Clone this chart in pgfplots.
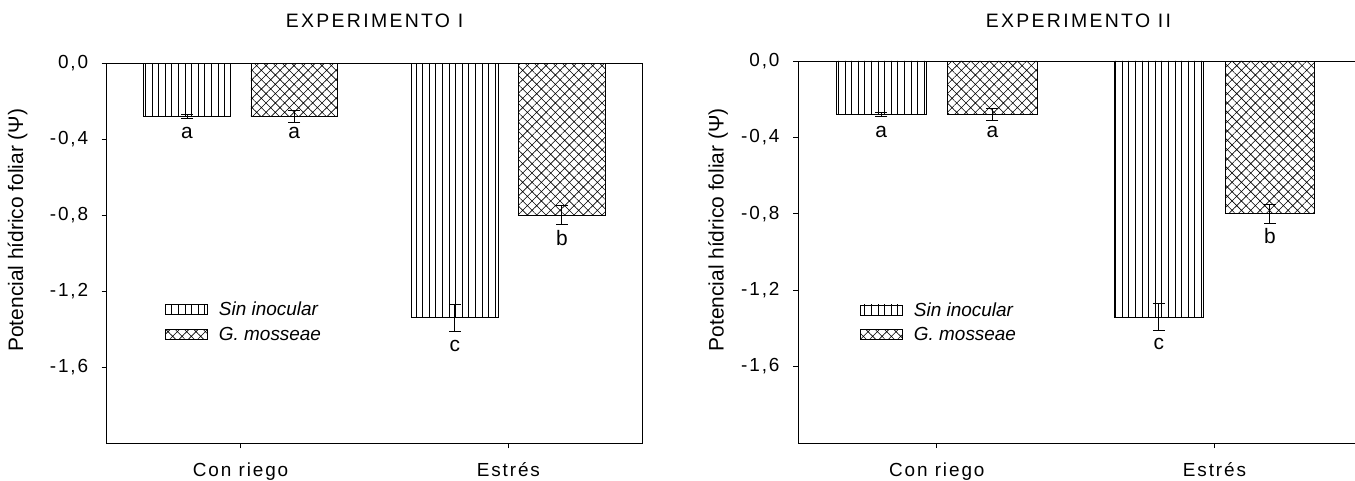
\documentclass[border=0pt]{standalone}
\usepackage{pgfplots}
\pgfplotsset{compat=1.18}
\usepackage{pgfplotstable}
\usetikzlibrary{patterns.meta}
\usepackage{fontspec}
\setmainfont{Liberation Sans}
\newfontfamily\spaced[LetterSpace=10]{Liberation Sans}
\newfontfamily\spacedt[LetterSpace=12]{Liberation Sans}

\pgfplotstableread{
x y e
0.8 -0.28 0.01
1.8 -1.34 0.07
}\sininoc
\pgfplotstableread{
x y e
1.2 -0.28 0.03
2.2 -0.80 0.05
}\gmoss

\tikzset{letter/.style={font=\fontsize{21}{25}\selectfont}}

\pgfplotsset{
 panel/.style={
  scale only axis, anchor=south west,
  xmin=0.5, ymin=-2, ymax=0,
  xtick={1,2}, xticklabels={Con riego, Estrés},
  ytick={-1.6,-1.2,-0.8,-0.4,0},
  tick align=outside, major tick length=5bp,
  xtick pos=bottom, ytick pos=left,
  axis line style={line width=0.9bp, black},
  tick style={line width=0.8bp, black},
  yticklabel style={xshift=-10bp, /pgf/number format/.cd, fixed, fixed zerofill, precision=1, use comma, assume math mode=true},
  xticklabel style={yshift=-11bp},
  ticklabel style={font=\spaced\fontsize{19}{23}\selectfont},
  ylabel={Potencial hídrico foliar (Ψ)},
  ylabel style={font=\fontsize{21}{25}\selectfont, anchor=center},
  title style={font=\spacedt\fontsize{19.5}{23}\selectfont, anchor=center},
  legend style={draw=none, fill=none, font=\itshape\fontsize{19}{23}\selectfont, inner sep=0pt, row sep=6bp, column sep=9bp, anchor=north west},
  legend cell align=left,
 },
 sinbar/.style={ybar, bar shift=0pt, bar width=0.323, draw=black, line width=0.8bp,
   pattern={Lines[angle=90,distance=6.6bp,line width=0.6bp]},
   legend image code/.code={\draw[##1] (0bp,-5bp) rectangle (42bp,5bp);},
   error bars/.cd, y dir=both, y explicit, error bar style={line width=1bp, black},
   error mark options={rotate=90, mark size=6bp, line width=1bp, black}},
 gmbar/.style={ybar, bar shift=0pt, bar width=0.323, draw=black, line width=0.8bp,
   pattern={Hatch[angle=45,distance=6.6bp,line width=0.6bp]},
   legend image code/.code={\draw[##1] (0bp,-5bp) rectangle (42bp,5bp);},
   error bars/.cd, y dir=both, y explicit, error bar style={line width=1bp, black},
   error mark options={rotate=90, mark size=6bp, line width=1bp, black}},
}

\begin{document}
\begin{tikzpicture}
\begin{axis}[panel, at={(106.7bp,37.7bp)}, width=535.6bp, height=380bp, xmax=2.5,
  title={EXPERIMENTO I},
  title style={at={(axis description cs:0.5,1.095)}},
  ylabel style={at={(axis description cs:-0.1666,0.561)}},
  legend style={at={(axis cs:0.7177,-1.246)}}]
\addplot[sinbar] table[x=x, y=y, y error=e] {\sininoc};
\addlegendentry{Sin inocular}
\addplot[gmbar] table[x=x, y=y, y error=e] {\gmoss};
\addlegendentry{G. mosseae}
\node[letter] at (axis cs:0.8,-0.365) {a};
\node[letter] at (axis cs:1.2,-0.365) {a};
\node[letter] at (axis cs:1.8,-1.486) {c};
\node[letter] at (axis cs:2.2,-0.917) {b};
\end{axis}
\begin{axis}[panel, at={(798bp,38bp)}, width=560.8bp, height=382bp, xmax=2.52,
  title={EXPERIMENTO II},
  title style={at={(axis description cs:0.5,1.09)}},
  ylabel style={at={(axis description cs:-0.1427,0.558)}},
  legend style={at={(axis cs:0.7233,-1.252)}}]
\addplot[sinbar] table[x=x, y=y, y error=e] {\sininoc};
\addlegendentry{Sin inocular}
\addplot[gmbar] table[x=x, y=y, y error=e] {\gmoss};
\addlegendentry{G. mosseae}
\node[letter] at (axis cs:0.8,-0.369) {a};
\node[letter] at (axis cs:1.2,-0.369) {a};
\node[letter] at (axis cs:1.8,-1.483) {c};
\node[letter] at (axis cs:2.2,-0.917) {b};
\end{axis}
\pgfresetboundingbox
\path[use as bounding box] (0bp,0bp) rectangle (1355bp,481bp);
\end{tikzpicture}
\end{document}
